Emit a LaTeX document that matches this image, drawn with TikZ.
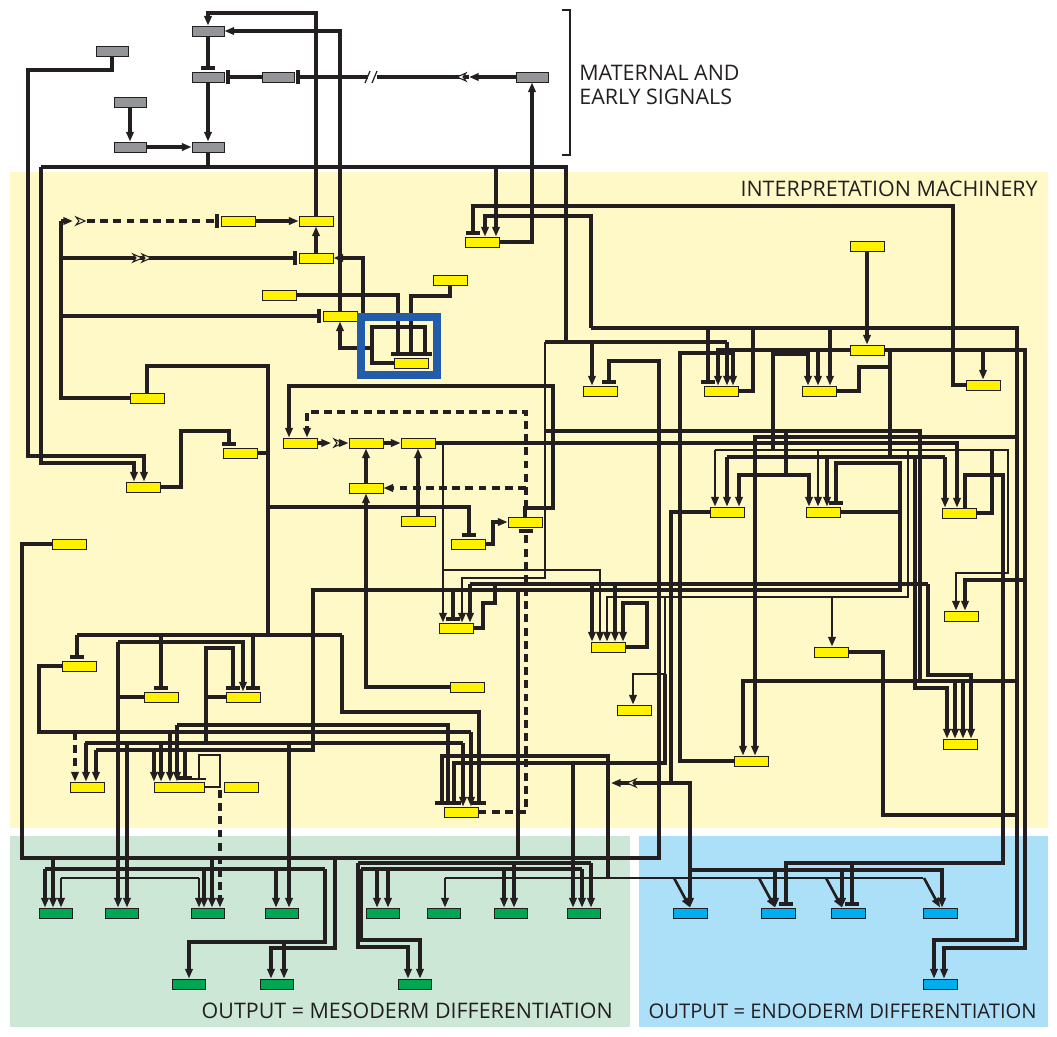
\documentclass[tikz,border=0pt]{standalone}
\usepackage{fontspec}
\setmainfont{Open Sans}
\usetikzlibrary{arrows.meta}
\definecolor{ink}{RGB}{35,31,32}
\definecolor{bgY}{RGB}{255,249,199}
\definecolor{bgM}{RGB}{205,231,215}
\definecolor{bgE}{RGB}{172,224,249}
\definecolor{geneY}{RGB}{255,242,0}
\definecolor{geneG}{RGB}{147,149,152}
\definecolor{geneM}{RGB}{0,166,81}
\definecolor{geneE}{RGB}{0,174,239}
\definecolor{hl}{RGB}{34,92,170}
\pgfdeclarelayer{bg}
\pgfdeclarelayer{wires}
\pgfsetlayers{bg,wires,main}
\tikzset{
  w/.style={draw=ink, line width=2.15pt},
  wt/.style={draw=ink, line width=1.5pt},
  wd/.style={draw=ink, line width=2.15pt, dash pattern=on 4.5pt off 3pt},
  act/.style={-{Triangle[length=5.5pt,width=4.2pt]}},
  inh/.style={-{Bar[width=8pt]}, shorten >=0.8pt},
  box/.style={draw=ink, line width=0.5pt, inner sep=0pt, minimum width=0.68cm, minimum height=0.2cm},
  ybox/.style={box, fill=geneY},
  gbox/.style={box, fill=geneG, minimum width=0.64cm},
  mbox/.style={box, fill=geneM, minimum width=0.66cm},
  ebox/.style={box, fill=geneE},
  label/.style={font=\fontsize{12.2}{13.6}\selectfont, text=ink, inner sep=0pt},
}
\newcommand\openR[3][bgY]{\filldraw[fill=#1,draw=ink,line width=0.6pt] (#2-5,#3-4) -- (#2+4,#3) -- (#2-5,#3+4) -- (#2-2,#3) -- cycle;}
\newcommand\openL[3][bgY]{\filldraw[fill=#1,draw=ink,line width=0.6pt] (#2+5,#3-4) -- (#2-4,#3) -- (#2+5,#3+4) -- (#2+2,#3) -- cycle;}

\begin{document}
\begin{tikzpicture}[x=0.02cm, y=-0.02cm]
  \useasboundingbox (0,0) rectangle (1057,1036);
  \begin{pgfonlayer}{bg}
    \fill[bgY] (10,172) rectangle (1048,828);
    \fill[bgM] (10,836) rectangle (630,1027);
    \fill[bgE] (639,836) rectangle (1048,1027);
  \end{pgfonlayer}

  % genes
  \foreach \n/\x/\y in {gA/208/31, gB/112/51, gC/208/77, gD/278/77, gE/532/77,
      gF/130/102, gG/130/147, gH/208/147}
    \node[gbox] (\n) at (\x,\y) {};
  \foreach \n/\x/\y in {Y1/238/221, Y2/316/221, Y3/316/258, Y4/279/295, Y5/340/316,
      Y6/450/280, Y7/411/363, Y8/482/242, Y9/867/246, Y10/147/398, Y11/240/453,
      Y12/143/487, Y13/300/443, Y14/366/443, Y15/418/443, Y16/366/488, Y17/418/521,
      Y18/468/544, Y19/525/522, Y20/69/544, Y21/600/391, Y22/721/391, Y23/819/391,
      Y24/867/350, Y25/983/385, Y26/727/512, Y27/823/512, Y28/959/513, Y29/456/628,
      Y30/608/647, Y31/961/616, Y32/831/652, Y33/79/666, Y34/161/697, Y35/243/697,
      Y36/467/687, Y37/634/710, Y38/960/744, Y39/751/761, Y40/87/787, Y42/241/787,
      Y43/461/812}
    \node[ybox] (\n) at (\x,\y) {};
  \node[ybox, minimum width=1cm] (Y41) at (179,787) {};
  \foreach \n/\x/\y in {G1/56/913, G2/122/913, G3/208/913, G4/282/913, G5/383/913,
      G6/444/913, G7/511/913, G8/584/913, G9/189/984, G10/277/984, G11/415/984}
    \node[mbox] (\n) at (\x,\y) {};
  \foreach \n/\x/\y in {B1/690/913, B2/778/913, B3/848/913, B4/940/913, B5/940/984}
    \node[ebox] (\n) at (\x,\y) {};

  \begin{pgfonlayer}{wires}
    % maternal and early signals
    \draw[w,inh] (gA.south) -- (gC.north);
    \draw[w,inh] (gD.west) -- (gC.east);
    \draw[w,act] (gC.south) -- (gH.north);
    \draw[w,act] (gF.south) -- (gG.north);
    \draw[w,act] (gG.east) -- (gH.west);
    \draw[w,act] (gE.west) -- (469,77);
    \draw[w,inh] (469,77) -- (gD.east);
    \openL[white]{461}{77}
    \fill[white] (368,70) rectangle (377,84);
    \draw[ink, line width=0.7pt] (365,83) -- (370,71) (372,83) -- (377,71);
    \draw[w,act] (Y2.north) -- (316,13) -| (gA.north);
    \draw[w,act] (Y5.north) |- (gA.east);
    \draw[w,act] (gB.south) |- (28,70) |- (144,456) -- (144,0 |- Y12.north);
    \draw[w] (gH.south) -- (208,167);
    \draw[w] (41,167) -- (566,167) -- (566,342);
    \draw[w] (545,342) -- (727,342);
    \draw[w,act] (41,167) |- (134,463) -- (134,0 |- Y12.north);
    \draw[w,act] (496,167) -- (496,0 |- Y8.north);
    \draw[w,act] (727,342) -- (727,0 |- Y22.north);
    \draw[w,act] (592,342) -- (592,0 |- Y21.north);
    \draw[wt,act] (545,342) |- (462,578) -- (462,0 |- Y29.north);
    \draw[w] (545,431) -- (920,431) -- (920,681);
    \draw[w,act] (Y8.east) -| (gE.south);

    % interpretation machinery, upper left
    \draw[w] (Y10.west) -| (61,221);
    \draw[w,act] (61,221) -- (73,221);
    \openR{81}{221}
    \draw[wd,inh] (87,221) -- (Y1.west);
    \draw[w,inh] (61,258) -- (Y3.west);
    \openR{138}{258}
    \openR{147}{258}
    \draw[w,inh] (61,316) -- (Y5.west);
    \draw[w,act] (Y1.east) -- (Y2.west);
    \draw[w,act] (Y3.north) -- (Y2.south);
    \draw[w,inh] (Y7.west) -| (372,327) -| (425,0 |- Y7.north);
    \draw[w,act] (372,348) -| (Y5.south);
    \draw[w,act] (363,348) |- (Y3.east);
    \draw[w,inh] (Y4.east) -| (398,0 |- Y7.north);
    \draw[w,inh] (Y6.south) |- (411,296) -- (411,0 |- Y7.north);
    \draw[w,inh] (Y25.west) -| (953,206) -| (473,0 |- Y8.north);
    \draw[w] (Y10.north) |- (268,366) -- (268,635);
    \draw[w] (Y11.east) -- (268,453);
    \draw[w,inh] (268,507) -| (469,0 |- Y18.north);
    \draw[w,inh] (Y12.east) -| (181,431) -| (229,0 |- Y11.north);

    % central cluster
    \draw[w,act] (Y13.east) -- (331,443);
    \openR{339}{443}
    \draw[w,act] (344,443) -- (Y14.west);
    \draw[w,act] (Y14.east) -- (Y15.west);
    \draw[w,act] (Y16.north) -- (Y14.south);
    \draw[w,act] (Y17.north) -- (Y15.south);
    \draw[w,act] (Y19.north) |- (553,508) |- (289,386) -- (289,0 |- Y13.north);
    \draw[wd,act] (526,508) |- (307,412) -- (307,0 |- Y13.north);
    \draw[wd,act] (526,488) -- (Y16.east);
    \draw[wd,inh] (Y43.east) -| (526,0 |- Y19.south);
    \draw[w,act] (Y18.east) -| (493,522) -- (Y19.west);
    \draw[w,act] (Y36.west) -| (Y16.south);
    \draw[w,act] (Y15.east) -| (957,0 |- Y28.north);
    \draw[wt,act] (443,443) -- (443,0 |- Y29.north);
    \draw[wt,act] (443,570) -| (600,0 |- Y30.north);

    % interpretation machinery, right
    \draw[w] (Y22.east) -| (753,328);
    \draw[w,act] (591,328) -- (1017,328) -- (1017,940) -| (934,0 |- B5.north);
    \draw[w,act] (591,328) |- (485,216) -- (485,0 |- Y8.north);
    \draw[w,inh] (708,328) -- (708,0 |- Y22.north);
    \draw[w,act] (830,328) -- (830,0 |- Y23.north);
    \draw[w,act] (Y24.west) -| (718,0 |- Y22.north);
    \draw[w,act] (818,350) -- (818,0 |- Y23.north);
    \draw[w,act] (Y24.east) -- (1025,350) -- (1025,948) -| (944,0 |- B5.north);
    \draw[w,act] (983,350) -- (983,0 |- Y25.north);
    \draw[w] (890,350) -- (890,457);
    \draw[w] (Y23.east) -| (859,367) -- (890,367);
    \draw[w,act] (Y9.south) -- (Y24.north);
    \draw[w,act] (Y39.west) -| (680,353) -| (733,0 |- Y22.north);
    \draw[w,act] (773,450) |- (808,354) -- (808,0 |- Y23.north);
    \draw[w,inh] (Y20.west) -| (22,858) -- (659,858) -- (659,361) -| (609,0 |- Y21.north);
    \draw[w,act] (786,431) |- (739,475) -- (739,0 |- Y26.north);
    \draw[w,act] (786,475) -| (809,0 |- Y27.north);
    \draw[w,act] (1017,437) -| (755,0 |- Y39.north);
    \draw[wt,act] (715,450) -- (1008,450) |- (956,573) -- (956,0 |- Y31.north);
    \draw[wt,act] (715,450) -- (715,0 |- Y26.north);
    \draw[wt,act] (818,450) -- (818,0 |- Y27.north);
    \draw[wt,act] (908,450) |- (607,597) -- (607,0 |- Y30.north);
    \draw[wt,act] (832,597) -- (832,0 |- Y32.north);
    \draw[wt,act] (665,597) |- (633,674) -- (633,0 |- Y37.north);
    \draw[w,inh] (665,674) |- (454,763) -- (454,0 |- Y43.north);
    \draw[w,act] (573,763) -- (573,0 |- G8.north);
    \draw[w] (727,457) -- (945,457);
    \draw[w,act] (727,457) -- (727,0 |- Y26.north);
    \draw[w,act] (945,457) -- (945,0 |- Y28.north);
    \draw[w,act] (827,457) -- (827,0 |- Y27.north);
    \draw[w,inh] (Y27.east) -| (900,463) -| (836,0 |- Y27.north);
    \draw[w] (900,513) -- (900,590) -- (313,590) -- (313,750) -- (96,750);
    \draw[w,act] (96,750) -- (96,0 |- Y40.north);
    \draw[w,act] (154,750) -- (154,0 |- Y41.north);
    \draw[w,inh] (185,750) -- (185,0 |- Y41.north);
    \draw[w,inh] (453,590) -- (453,0 |- Y29.north);
    \draw[w] (518,590) -- (518,858);
    \draw[w,act] (915,457) |- (947,688) -- (947,0 |- Y38.north);
    \draw[w,act] (1017,681) -| (743,0 |- Y39.north);
    \draw[w,act] (955,681) -- (955,0 |- Y38.north);
    \draw[w,act] (963,681) -- (963,0 |- Y38.north);
    \draw[w] (470,584) -- (928,584);
    \draw[w,act] (928,584) |- (971,675) -- (971,0 |- Y38.north);
    \draw[w,act] (470,584) -- (470,0 |- Y29.north);
    \draw[w,act] (592,584) -- (592,0 |- Y30.north);
    \draw[w,act] (615,584) -- (615,0 |- Y30.north);
    \draw[w,act] (Y30.east) -| (647,603) -| (623,0 |- Y30.north);
    \draw[w] (Y29.east) -| (483,603) -| (495,584);
    \draw[w,inh] (965,0 |- Y28.north) |- (1003,475) -- (1003,863) -| (786,0 |- B2.north);
    \draw[w,inh] (852,863) -- (852,0 |- B3.north);
    \draw[w] (Y28.east) -| (992,450);
    \draw[w,act] (1025,580) -| (965,0 |- Y31.north);
    \draw[w] (Y32.east) -| (883,815) -- (1017,815);
    \draw[w] (Y26.west) -| (671,783);
    \draw[w,act] (671,783) -- (611,783);
    \openL{631}{783}
    \draw[w,act] (671,783) -| (690,0 |- B1.north);
    \draw[w,act] (690,870) -| (942,0 |- B4.north);
    \draw[w,act] (775,870) -- (775,0 |- B2.north);
    \draw[w,act] (842,870) -- (842,0 |- B3.north);
    \draw[w,inh] (608,878) -- (608,756) -| (442,0 |- Y43.north);
    \draw[wt] (445,878) -- (923,878);
    \draw[wt,act] (445,878) -- (445,0 |- G6.north);
    \draw[wt,act] (674,878) -- (690,0 |- B1.north);
    \draw[wt,act] (759,878) -- (775,0 |- B2.north);
    \draw[wt,act] (826,878) -- (842,0 |- B3.north);
    \draw[wt,act] (924,878) -- (940,0 |- B4.north);

    % interpretation machinery, lower left
    \draw[w] (77,635) -- (342,635);
    \draw[w,inh] (77,635) -- (77,0 |- Y33.north);
    \draw[w,inh] (161,635) -- (161,0 |- Y34.north);
    \draw[w,inh] (253,635) -- (253,0 |- Y35.north);
    \draw[w,inh] (342,635) |- (479,712) -- (479,0 |- Y43.north);
    \draw[w] (Y34.west) -| (118,642);
    \draw[w,act] (118,642) -| (243,0 |- Y35.north);
    \draw[w,act] (118,697) -- (118,0 |- G2.north);
    \draw[w] (Y35.west) -| (206,743);
    \draw[w,inh] (206,697) |- (233,648) -- (233,0 |- Y35.north);
    \draw[w] (85,743) -- (463,743);
    \draw[w,act] (86,743) -- (86,0 |- Y40.north);
    \draw[w,act] (161,743) -- (161,0 |- Y41.north);
    \draw[w,act] (463,743) -- (463,0 |- Y43.north);
    \draw[w,act] (289,743) -- (289,0 |- G4.north);
    \draw[w,act] (127,743) -- (127,0 |- G2.north);
    \draw[w] (Y33.west) -| (39,732) -- (471,732);
    \draw[wd,act] (75,732) -- (75,0 |- Y40.north);
    \draw[w,act] (170,732) -- (170,0 |- Y41.north);
    \draw[w,act] (471,732) -- (471,0 |- Y43.north);
    \draw[w,act] (177,725) -- (177,0 |- Y41.north);
    \draw[w,inh] (177,725) -- (448,725) -- (448,0 |- Y43.north);
    \draw[wt,inh] (Y41.east) -| (220,755) -| (199,0 |- Y41.north);
    \draw[wd,act] (220,790) -- (220,0 |- G3.north);

    % output, mesoderm
    \draw[w,act] (53,858) -- (53,0 |- G1.north);
    \draw[w,act] (212,858) -- (212,0 |- G3.north);
    \draw[w,act] (335,858) |- (271,948) -- (271,0 |- G10.north);
    \draw[w] (45,869) -- (325,869);
    \draw[w,act] (45,869) -- (45,0 |- G1.north);
    \draw[w,act] (204,869) -- (204,0 |- G3.north);
    \draw[w,act] (276,869) -- (276,0 |- G4.north);
    \draw[w,act] (325,869) |- (189,942) -- (189,0 |- G9.north);
    \draw[w,act] (284,942) -- (284,0 |- G10.north);
    \draw[wt] (61,878) -- (199,878);
    \draw[wt,act] (61,878) -- (61,0 |- G1.north);
    \draw[wt,act] (199,878) -- (199,0 |- G3.north);
    \draw[w] (358,863) -- (591,863);
    \draw[w,act] (591,863) -- (591,0 |- G8.north);
    \draw[w,act] (514,863) -- (514,0 |- G7.north);
    \draw[w,act] (358,863) |- (408,947) -- (408,0 |- G11.north);
    \draw[w] (361,869) -- (582,869);
    \draw[w,act] (377,869) -- (377,0 |- G5.north);
    \draw[w,act] (388,869) -- (388,0 |- G5.north);
    \draw[w,act] (504,869) -- (504,0 |- G7.north);
    \draw[w,act] (582,869) -- (582,0 |- G8.north);
    \draw[w,act] (361,869) |- (420,940) -- (420,0 |- G11.north);
  \end{pgfonlayer}

  \draw[hl, line width=4.5pt] (361,317) rectangle (437,375);
  \draw[ink, line width=0.6pt] (562,10) -- (570,10) -- (570,155) -- (562,155);

  \node[label, anchor=west, align=left] at (579,85) {MATERNAL AND\\EARLY SIGNALS};
  \node[label, anchor=east] at (1038,189) {INTERPRETATION MACHINERY};
  \node[label, anchor=east] at (613,1011) {OUTPUT = MESODERM DIFFERENTIATION};
  \node[label, anchor=east, font=\fontsize{11.5}{13.6}\selectfont] at (1037,1011) {OUTPUT = ENDODERM DIFFERENTIATION};
\end{tikzpicture}
\end{document}
